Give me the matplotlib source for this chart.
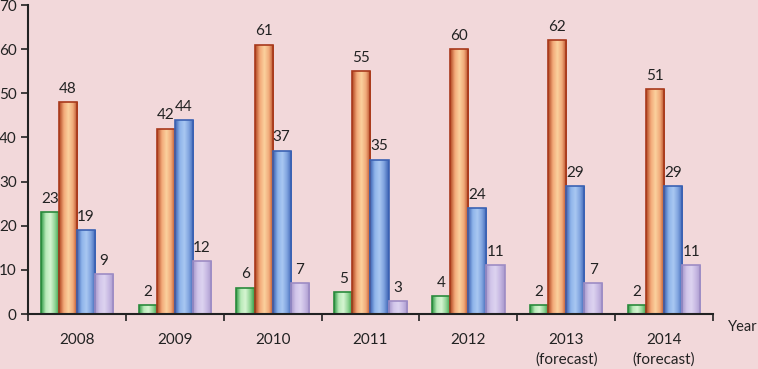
import numpy as np
import matplotlib
matplotlib.use("Agg")
import matplotlib.pyplot as plt
from matplotlib.colors import LinearSegmentedColormap

years = ["2008", "2009", "2010", "2011", "2012", "2013\n(forecast)", "2014\n(forecast)"]
green = [23, 2, 6, 5, 4, 2, 2]
orange = [48, 42, 61, 55, 60, 62, 51]
blue = [19, 44, 37, 35, 24, 29, 29]
purple = [9, 12, 7, 3, 11, 7, 11]

series = [green, orange, blue, purple]
edges = ["#2a8a3c", "#a8391c", "#3b62b3", "#9d8cc4"]
grads = [
    ["#2f9a45", "#b8eab8", "#d6f5d2", "#8fd494", "#2f9a45"],
    ["#b0441f", "#f2a878", "#fbd29e", "#f0a878", "#b0441f"],
    ["#3b62b3", "#8fb4ea", "#a9c8f2", "#7ea2de", "#3b62b3"],
    ["#a898cc", "#d2c6ea", "#ddd3f0", "#c6b8e2", "#a898cc"],
]

bg = "#f2d8da"
plt.rcParams['font.family'] = ['Lato', 'DejaVu Sans']
fig = plt.figure(figsize=(7.58, 3.69), dpi=100, facecolor=bg)
ax = fig.add_axes([0.0369, 0.149, 0.9037, 0.8374], facecolor=bg)

x = np.arange(len(years))
w = 0.185
offs = [-1.5, -0.5, 0.5, 1.5]
grad_img = np.linspace(0, 1, 64).reshape(1, -1)
for vals, ec, gc, o in zip(series, edges, grads, offs):
    cmap = LinearSegmentedColormap.from_list("g", gc)
    bars = ax.bar(x + o * w, vals, width=w, color="none", edgecolor=ec, linewidth=1.2, zorder=3)
    for b, v in zip(bars, vals):
        bx, by, bw, bh = b.get_x(), b.get_y(), b.get_width(), b.get_height()
        im = ax.imshow(grad_img, cmap=cmap, aspect="auto",
                       extent=[bx, bx + bw, by, by + bh], zorder=2, interpolation="bilinear")
        im.set_clip_path(b)
        ax.annotate(str(v), (bx + bw / 2, by + bh), xytext=(0, 4.5), textcoords="offset points",
                    ha="center", va="bottom", fontsize=11, color="#222222")

ax.set_xlim(-0.5, len(years) - 0.5)
ax.set_ylim(0, 70)
ax.set_yticks(np.arange(0, 71, 10))
ax.set_xticks(np.arange(-0.5, len(years), 1.0))
ax.set_xticklabels([])
ax.set_xticks(x, minor=True)
ax.set_xticklabels(years, minor=True, fontsize=11, color="#222222", linespacing=1.45)
ax.tick_params(axis="x", which="major", direction="out", length=5, width=1.2, color="#222222")
ax.tick_params(axis="x", which="minor", direction="in", length=5, width=1.2, color="#222222", pad=14)
ax.tick_params(axis="y", direction="out", length=5, width=1.2, color="#222222", labelsize=11, labelcolor="#222222", pad=3)
for s in ["top", "right"]:
    ax.spines[s].set_visible(False)
for s in ["left", "bottom"]:
    ax.spines[s].set_linewidth(1.5)
    ax.spines[s].set_color("#222222")
    ax.spines[s].set_zorder(5)

fig.text(0.960, 0.115, "Year", fontsize=10.5, color="#222222", ha="left", va="center")

fig.savefig("out.png", dpi=100, facecolor=bg)
